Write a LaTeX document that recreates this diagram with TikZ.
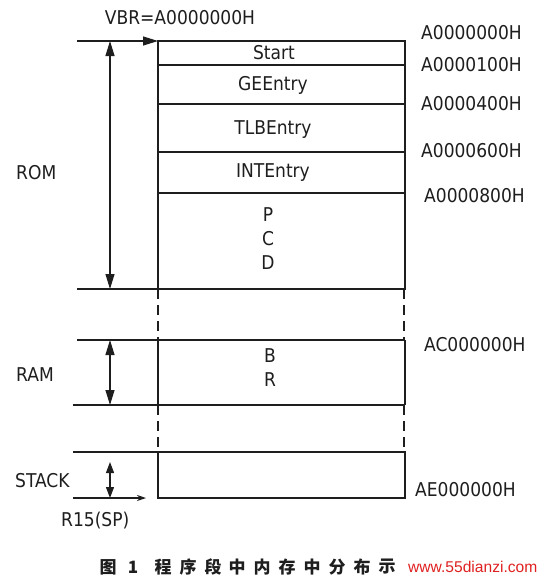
\documentclass[tikz,border=0pt]{standalone}
\usepackage{fontspec}
\setmainfont{DejaVu Sans Condensed}
\newfontfamily\cjk{Noto Sans CJK SC}
\newfontfamily\wmfont{Liberation Sans}
\usetikzlibrary{arrows.meta}
\definecolor{ink}{HTML}{1E1E1E}
\definecolor{wmred}{HTML}{E02020}
\begin{document}
\begin{tikzpicture}[x=1pt,y=-1pt,
  lbl/.style={font=\fontsize{19}{24}\selectfont, inner sep=0pt, text=ink},
  addr/.style={lbl, anchor=west},
  ln/.style={draw=ink, line width=1.2pt},
  dsh/.style={draw=ink, line width=2.6pt, dash pattern=on 10pt off 6pt},
  bigtip/.tip={Triangle[length=15pt,width=9pt]},
  smalltip/.tip={Triangle[length=11pt,width=8pt]},
  dbl/.style={ln, bigtip-bigtip},
  capchar/.style={font=\cjk\bfseries\fontsize{17}{17}\selectfont, inner sep=0pt, text=ink}]
\useasboundingbox (0,0) rectangle (543,579);
% ---- memory map shapes
\draw[ln] (158,41) rectangle (405,289);
\foreach \y in {65,104,152,193} \draw[ln] (158,\y) -- (405,\y);
\draw[ln] (77,289) -- (158,289);
\draw[dsh] (158,289) -- (158,340);
\draw[dsh] (404,289) -- (404,340);
\draw[ln] (77,340) -- (405,340);
\draw[ln] (158,340) -- (158,405);
\draw[ln] (405,340) -- (405,405);
\draw[ln] (73,405) -- (405,405);
\draw[dsh] (158,405) -- (158,452);
\draw[dsh] (404,405) -- (404,452);
\draw[ln] (73,452) -- (405,452);
\draw[ln] (158,452) rectangle (405,498);
% ---- coordinates for connectors
\coordinate (vbrS) at (77,41);
\coordinate (vbrE) at (158,41);
\coordinate (romT) at (110,41);
\coordinate (romB) at (110,289);
\coordinate (ramT) at (110,340);
\coordinate (ramB) at (110,405);
\coordinate (stkT) at (110,462);
\coordinate (stkB) at (110,498);
\coordinate (spS) at (73,498);
\coordinate (spE) at (146,498);
\draw[ln, -bigtip] (vbrS) -- (vbrE);
\draw[dbl] (romT) -- (romB);
\draw[dbl] (ramT) -- (ramB);
\draw[ln, smalltip-smalltip] (stkT) -- (stkB);
\draw[ln, -{Stealth[length=9pt,width=6pt]}] (spS) -- (spE);
% ---- labels
\node[lbl] (vbr) at (180,18) {VBR=A0000000H};
\node[addr] (a0) at (421,33) {A0000000H};
\node[addr] (a1) at (421,65) {A0000100H};
\node[addr] (a4) at (421,104) {A0000400H};
\node[addr] (a6) at (421,151) {A0000600H};
\node[addr] (a8) at (424,196) {A0000800H};
\node[addr] (ac) at (424,345) {AC000000H};
\node[addr] (ae) at (415,490) {AE000000H};
\node[lbl] (start) at (274,53) {Start};
\node[lbl] (ge) at (273,85) {GEEntry};
\node[lbl] (tlb) at (273,130) {TLBEntry};
\node[lbl] (int) at (273,173) {INTEntry};
\node[lbl, align=center] (pcd) at (268,239) {P\\C\\D};
\node[lbl, align=center] (br) at (270,368) {B\\R};
\node[lbl, anchor=west] (rom) at (16,173) {ROM};
\node[lbl, anchor=west] (ram) at (16,375) {RAM};
\node[lbl, anchor=west] (stack) at (15,481) {STACK};
\node[lbl, anchor=west] (sp) at (61,521) {R15(SP)};
% ---- caption
\foreach \c/\x [count=\i] in {图/108,1/133,程/163,序/188,段/213,中/237,内/262,存/287,中/312,分/337,布/362,示/387}
  \node[capchar] (cap\i) at (\x,567) {\c};
\node[font=\wmfont\fontsize{15.6}{16}\selectfont, text=wmred, inner sep=0pt, anchor=west] (wm) at (408,567) {www.55dianzi.com};
\end{tikzpicture}
\end{document}
